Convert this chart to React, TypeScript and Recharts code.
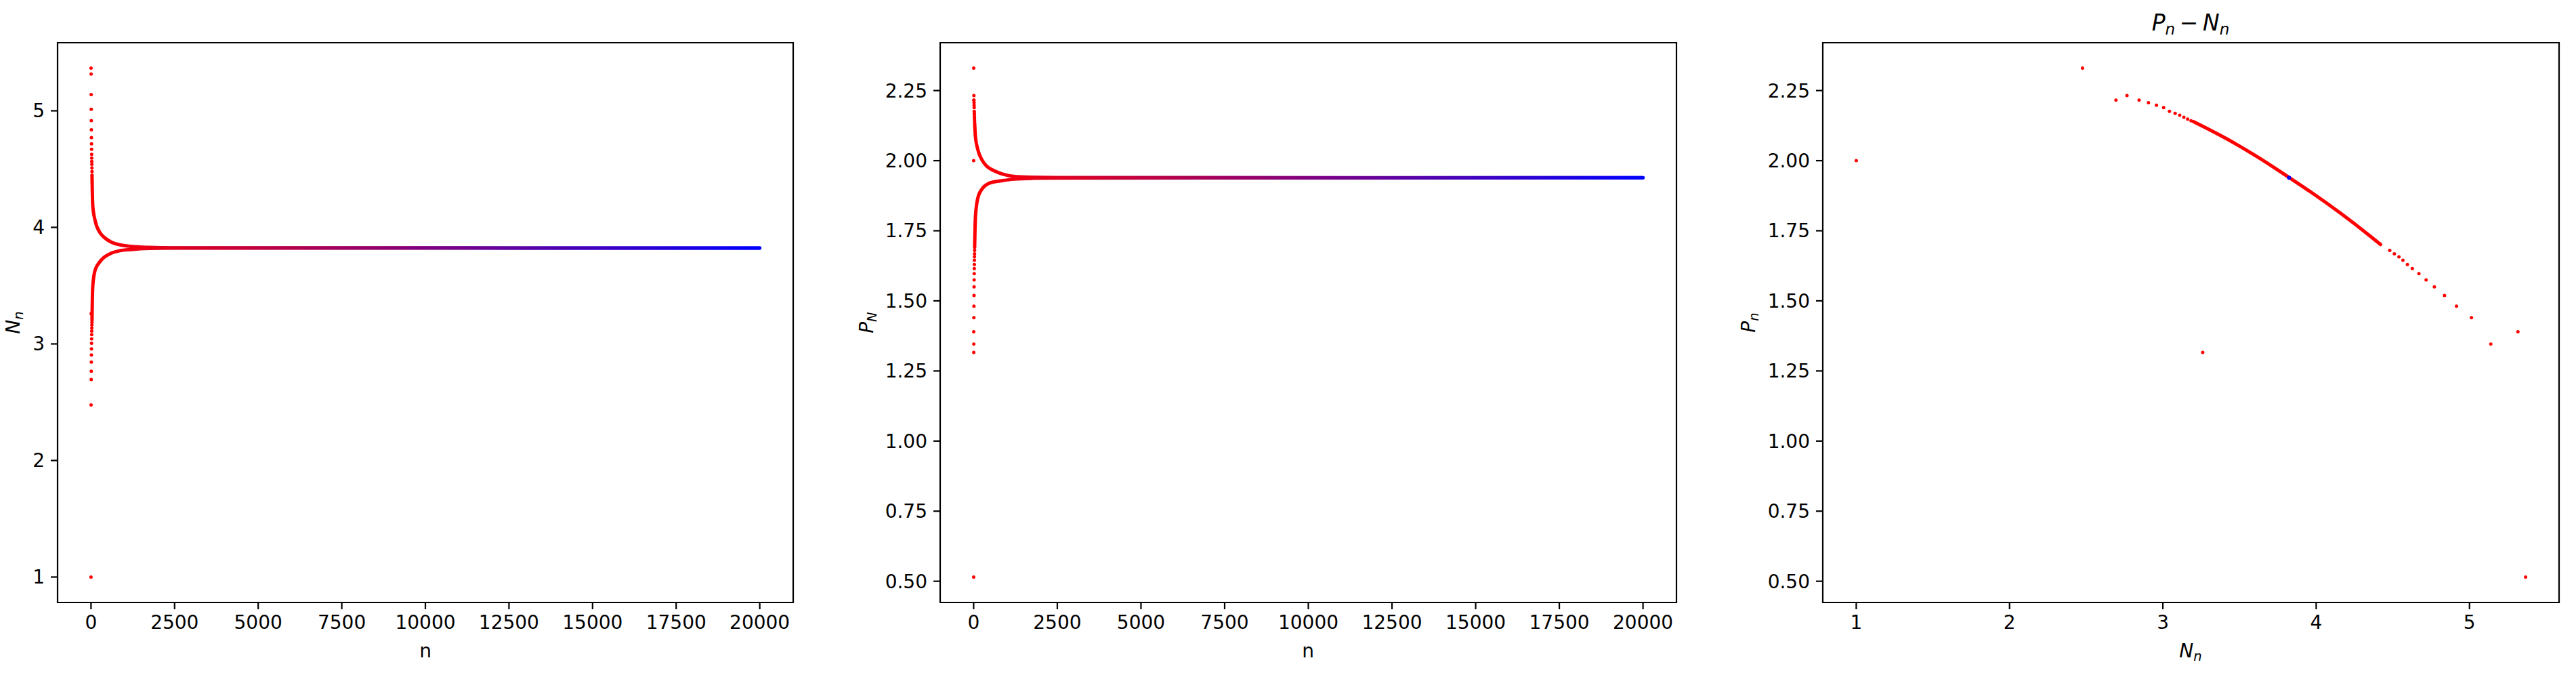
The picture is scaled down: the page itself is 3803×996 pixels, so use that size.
import React from 'react'
import { ReferenceArea, Scatter, ScatterChart, XAxis, YAxis } from 'recharts'

const N_LAST = 20000

// first 30 iterates, index = n
const earlyN = [1, 5.366, 2.476, 5.316, 3.26, 5.139, 2.694, 5.013, 2.766, 4.915, 2.845, 4.837, 2.906, 4.771, 2.958, 4.717, 3.005, 4.67, 3.043, 4.627, 3.08, 4.595, 3.11, 4.566, 3.137, 4.54, 3.162, 4.51, 3.184, 4.48]
const earlyP = [2.0, 0.515, 2.33, 1.39, 1.316, 1.346, 2.216, 1.44, 2.232, 1.481, 2.216, 1.519, 2.207, 1.55, 2.198, 1.575, 2.189, 1.597, 2.176, 1.615, 2.169, 1.63, 2.162, 1.645, 2.155, 1.657, 2.148, 1.668, 2.142, 1.68]

// the two converging branches, sampled at these n
const steps = [30, 40, 54, 122, 257, 392, 595, 865, 1203, 1743, 2500, 20000]
const upperN = [4.45, 4.3, 4.18, 4.06, 3.96, 3.915, 3.875, 3.85, 3.837, 3.828, 3.824, 3.823]
const lowerN = [3.2, 3.38, 3.5, 3.632, 3.702, 3.743, 3.777, 3.8, 3.81, 3.819, 3.822, 3.823]
const upperP = [2.135, 2.11, 2.085, 2.041, 2.001, 1.98, 1.965, 1.952, 1.944, 1.941, 1.94, 1.939]
const lowerP = [1.69, 1.75, 1.8, 1.865, 1.9, 1.915, 1.924, 1.929, 1.934, 1.937, 1.938, 1.939]

// dense part of the phase curve P against N
const curveN = [3.2, 3.277, 3.426, 3.609, 3.818, 3.976, 4.16, 4.343, 4.42]
const curveP = [2.139, 2.118, 2.075, 2.016, 1.942, 1.884, 1.812, 1.735, 1.701]

const fixedN = 3.823
const fixedP = 1.939

const nTicks = [0, 2500, 5000, 7500, 10000, 12500, 15000, 17500, 20000]
const valTicks = [1, 2, 3, 4, 5]
const pTicks = [0.5, 0.75, 1.0, 1.25, 1.5, 1.75, 2.0, 2.25]

const nDomain: [number, number] = [-1000, 21000]
const valDomain: [number, number] = [0.7817, 5.5843]
const pDomain: [number, number] = [0.4243, 2.4207]

const FONT = 'DejaVu Sans'
const tickFont = { fill: '#000', fontSize: 28, fontFamily: FONT }
const tickLine = { stroke: '#000', strokeWidth: 2.2 }

const colorAt = (n: number) => {
  const t = Math.min(1, Math.max(0, n / N_LAST))
  return `rgb(${Math.round(255 * (1 - t))},0,${Math.round(255 * t)})`
}

const Dot = (props: any) => {
  const { cx, cy, payload } = props
  if (cx == null || cy == null) return <g />
  return <circle cx={cx} cy={cy} r={payload.r ?? 2.5} fill={colorAt(payload.n)} />
}
const NoDot = () => <g />

const early = earlyN.map((v, i) => ({ n: i, N: v, P: earlyP[i] }))

interface PanelProps {
  left: number
  width: number
  axisWidth: number
  right: number
  xDomain: [number, number]
  yDomain: [number, number]
  xTicks: number[]
  yTicks: number[]
  yFormat: (v: number) => string
  gradId: string
  children: React.ReactNode
}

function Panel(p: PanelProps) {
  return (
    <div style={{ position: 'absolute', left: p.left, top: 0 }}>
      <ScatterChart width={p.width} height={996} margin={{ top: 63, right: p.right, bottom: 0, left: 0 }}>
        <defs>
          <linearGradient id={p.gradId} x1="0" y1="0" x2="1" y2="0">
            <stop offset="0%" stopColor="#ff0000" />
            <stop offset="100%" stopColor="#0000ff" />
          </linearGradient>
        </defs>
        <XAxis
          type="number"
          dataKey="x"
          domain={p.xDomain}
          allowDataOverflow
          ticks={p.xTicks}
          interval={0}
          height={107}
          tickSize={10}
          tickMargin={9}
          axisLine={false}
          tickLine={tickLine}
          tick={tickFont}
        />
        <YAxis
          type="number"
          dataKey="y"
          domain={p.yDomain}
          allowDataOverflow
          ticks={p.yTicks}
          interval={0}
          width={p.axisWidth}
          tickSize={10}
          tickMargin={9}
          axisLine={false}
          tickLine={tickLine}
          tick={tickFont}
          tickFormatter={p.yFormat}
        />
        <ReferenceArea
          x1={p.xDomain[0]}
          x2={p.xDomain[1]}
          y1={p.yDomain[0]}
          y2={p.yDomain[1]}
          fill="none"
          fillOpacity={0}
          stroke="#000"
          strokeWidth={2.2}
          ifOverflow="visible"
        />
        {p.children}
      </ScatterChart>
    </div>
  )
}

const branchLine = (stroke: string) => ({
  stroke,
  strokeWidth: 5,
  strokeLinecap: 'round' as const,
  strokeLinejoin: 'round' as const,
})

const base: React.CSSProperties = {
  position: 'absolute',
  fontFamily: FONT,
  color: '#000',
  whiteSpace: 'nowrap',
  lineHeight: 1,
}
const sub: React.CSSProperties = { fontSize: '0.7em', verticalAlign: '-0.25em', fontStyle: 'italic' }
const it: React.CSSProperties = { fontStyle: 'italic' }

function Txt({ x, y, size, rotate, children }: { x: number; y: number; size: number; rotate?: boolean; children: React.ReactNode }) {
  return (
    <div
      style={{
        ...base,
        left: x,
        top: y,
        fontSize: size,
        transform: `translate(-50%, -50%)${rotate ? ' rotate(-90deg)' : ''}`,
      }}
    >
      {children}
    </div>
  )
}

export default function App() {
  const fmtInt = (v: number) => String(v)
  const fmtP = (v: number) => v.toFixed(2)

  return (
    <div style={{ position: 'absolute', left: 0, top: 0, width: 3803, height: 996, background: '#fff', overflow: 'hidden' }}>
      <Panel left={0} width={1240} axisWidth={85} right={69} xDomain={nDomain} yDomain={valDomain} xTicks={nTicks} yTicks={valTicks} yFormat={fmtInt} gradId="fadeN">
        <Scatter data={early.map((d) => ({ x: d.n, y: d.N, n: d.n }))} shape={Dot} isAnimationActive={false} />
        <Scatter data={steps.map((s, i) => ({ x: s, y: lowerN[i] }))} shape={NoDot} line={branchLine('url(#fadeN)')} lineJointType="monotoneX" isAnimationActive={false} />
        <Scatter data={steps.map((s, i) => ({ x: s, y: upperN[i] }))} shape={NoDot} line={branchLine('url(#fadeN)')} lineJointType="monotoneX" isAnimationActive={false} />
      </Panel>

      <Panel left={1240} width={1300} axisWidth={148} right={65} xDomain={nDomain} yDomain={pDomain} xTicks={nTicks} yTicks={pTicks} yFormat={fmtP} gradId="fadeP">
        <Scatter data={early.map((d) => ({ x: d.n, y: d.P, n: d.n }))} shape={Dot} isAnimationActive={false} />
        <Scatter data={steps.map((s, i) => ({ x: s, y: lowerP[i] }))} shape={NoDot} line={branchLine('url(#fadeP)')} lineJointType="monotoneX" isAnimationActive={false} />
        <Scatter data={steps.map((s, i) => ({ x: s, y: upperP[i] }))} shape={NoDot} line={branchLine('url(#fadeP)')} lineJointType="monotoneX" isAnimationActive={false} />
      </Panel>

      <Panel left={2540} width={1263} axisWidth={151} right={25} xDomain={valDomain} yDomain={pDomain} xTicks={valTicks} yTicks={pTicks} yFormat={fmtP} gradId="fadePhase">
        <Scatter
          data={curveN.map((v, i) => ({ x: v, y: curveP[i] }))}
          shape={NoDot}
          line={branchLine('#ff0000')}
          lineJointType="monotoneX"
          isAnimationActive={false}
        />
        <Scatter data={early.map((d) => ({ x: d.N, y: d.P, n: d.n }))} shape={Dot} isAnimationActive={false} />
        <Scatter data={[{ x: fixedN, y: fixedP, n: N_LAST, r: 3 }]} shape={Dot} isAnimationActive={false} />
      </Panel>

      {/* axis labels and title */}
      <Txt x={22} y={476} size={28} rotate>
        <span style={it}>N</span>
        <span style={sub}>n</span>
      </Txt>
      <Txt x={628} y={961} size={28}>n</Txt>

      <Txt x={1282} y={476} size={28} rotate>
        <span style={it}>P</span>
        <span style={sub}>N</span>
      </Txt>
      <Txt x={1931} y={961} size={28}>n</Txt>

      <Txt x={2584} y={476} size={28} rotate>
        <span style={it}>P</span>
        <span style={sub}>n</span>
      </Txt>
      <Txt x={3234} y={963} size={28}>
        <span style={it}>N</span>
        <span style={sub}>n</span>
      </Txt>
      <Txt x={3234} y={36} size={33}>
        <span style={it}>P</span>
        <span style={sub}>n</span>
        {'\u2009\u2212\u2009'}
        <span style={it}>N</span>
        <span style={sub}>n</span>
      </Txt>
    </div>
  )
}
